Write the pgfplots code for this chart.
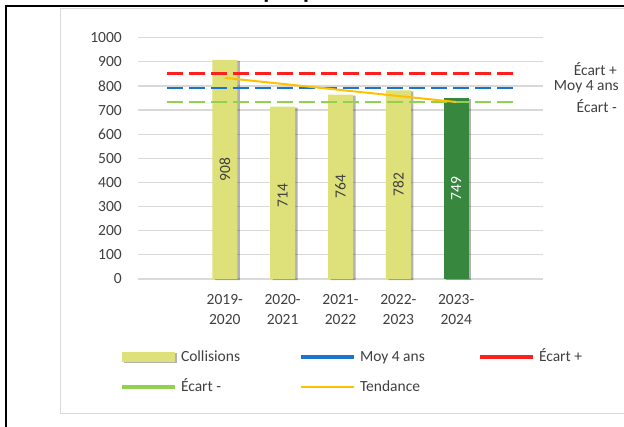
\documentclass[border=0pt]{standalone}
\usepackage{fontspec}
\setmainfont{Carlito}
\usepackage{pgfplots}
\pgfplotsset{compat=1.18}
\usetikzlibrary{shadows}

\definecolor{barlight}{HTML}{DEE07A}
\definecolor{bardark}{HTML}{37873E}
\definecolor{gridgray}{HTML}{D9D9D9}
\definecolor{txt}{HTML}{404040}
\definecolor{cred}{HTML}{FF1F1F}
\definecolor{cblue}{HTML}{1C75CC}
\definecolor{cgreen}{HTML}{92D050}
\definecolor{corange}{HTML}{FFC000}

\newcommand{\chartfont}{\fontsize{15.5bp}{20bp}\selectfont}

\begin{document}
\begin{tikzpicture}
\useasboundingbox (0,0) rectangle (624bp,427bp);
\fill[white] (0,0) rectangle (624bp,427bp);

% title, cut off by the top edge as in the reference
\node[font=\bfseries\fontsize{24.6bp}{28bp}\selectfont, anchor=base, inner sep=0pt]
  at (351bp,428bp) {Graphique des collisions};

% chart area border and outer frame
\draw[gridgray, line width=1bp] (60bp,13bp) -- (60bp,418bp) -- (630bp,418bp);
\draw[gridgray, line width=1bp] (60bp,13bp) -- (630bp,13bp);
\draw[black, line width=1.6bp] (6bp,0bp) -- (6bp,421.2bp) -- (630bp,421.2bp);

\begin{axis}[
    at={(138bp,148bp)}, anchor=south west,
    scale only axis,
    width=405bp, height=241.3bp,
    xmin=-0.5, xmax=6.5,
    ymin=0, ymax=1000,
    ytick={0,100,...,1000},
    xtick={1,2,3,4,5},
    xticklabels={2019-\\2020, 2020-\\2021, 2021-\\2022, 2022-\\2023, 2023-\\2024},
    ymajorgrids,
    grid style={draw=gridgray, line width=1.2bp},
    axis line style={draw=none},
    major tick style={draw=none},
    tick label style={font=\chartfont, color=txt},
    /pgf/number format/assume math mode=true,
    /pgf/number format/1000 sep={},
    yticklabel style={anchor=east, inner sep=0pt, xshift=-16bp},
    xticklabel style={align=center, anchor=north, inner sep=0pt, yshift=-15bp},
    clip=false,
    legend columns=3,
    legend cell align=left,
    legend style={
        at={(-0.0444,-0.3854)}, anchor=west,
        draw=none, fill=none, inner sep=0pt, outer sep=0pt,
        font=\chartfont, text=txt,
        nodes={inner sep=0pt, text height=12bp, text depth=4bp},
        row sep=14bp,
        /tikz/every odd column/.append style={column sep=5bp},
    },
]

% bars
\addplot[ybar, bar shift=0pt, bar width=25bp, fill=barlight, draw=none,
    /tikz/drop shadow={shadow xshift=2.5bp, shadow yshift=-1bp, opacity=0.3, fill=black},
    legend image code/.code={\fill[barlight] (0bp,-4.5bp) rectangle (53bp,4.5bp);}]
    coordinates {(1,908) (2,714) (3,764) (4,782)};
\addlegendentry{\makebox[118bp][l]{Collisions}}

\addplot[ybar, bar shift=0pt, bar width=25bp, fill=bardark, draw=none, forget plot,
    /tikz/drop shadow={shadow xshift=2.5bp, shadow yshift=-1bp, opacity=0.3, fill=black}]
    coordinates {(5,749)};

% reference lines
\addplot[cblue, line width=2.5bp, dash pattern=on 16bp off 6bp,
    legend image code/.code={\draw[cblue, solid, line width=3bp] (0bp,0bp) -- (53bp,0bp);}]
    coordinates {(0,792) (6,792)};
\addlegendentry{\makebox[118bp][l]{Moy 4 ans}}

\addplot[cred, line width=2.5bp, dash pattern=on 16bp off 6bp,
    legend image code/.code={\draw[cred, solid, line width=3bp] (0bp,0bp) -- (53bp,0bp);}]
    coordinates {(0,851) (6,851)};
\addlegendentry{\makebox[118bp][l]{Écart +}}

\addplot[cgreen, line width=2.5bp, dash pattern=on 16bp off 6bp,
    legend image code/.code={\draw[cgreen, solid, line width=3bp] (0bp,0bp) -- (53bp,0bp);}]
    coordinates {(0,734) (6,734)};
\addlegendentry{\makebox[118bp][l]{Écart -}}

\addplot[corange, line width=2bp,
    legend image code/.code={\draw[corange, solid, line width=2bp] (0bp,0bp) -- (53bp,0bp);}]
    coordinates {(1,833.4) (2,808.4) (3,783.4) (4,758.4) (5,733.4)};
\addlegendentry{\makebox[118bp][l]{Tendance}}

% bar value labels, centred in the bars
\addplot[draw=none, mark=none, forget plot, point meta=explicit symbolic,
    nodes near coords,
    nodes near coords style={rotate=90, anchor=center, inner sep=0pt, font=\chartfont, color=txt}]
    coordinates {(1,454)[908] (2,345)[714] (3,382)[764] (4,391)[782]};
\addplot[draw=none, mark=none, forget plot, point meta=explicit symbolic,
    nodes near coords,
    nodes near coords style={rotate=90, anchor=center, inner sep=0pt, font=\chartfont, color=white}]
    coordinates {(5,374.5)[749]};

% series names at the end of the lines
\node[anchor=east, inner sep=0pt, font=\chartfont, text=txt] at (rel axis cs:1.1827,0.870) {Écart +};
\node[anchor=east, inner sep=0pt, font=\chartfont, text=txt] at (rel axis cs:1.1877,0.7957) {Moy 4 ans};
\node[anchor=east, inner sep=0pt, font=\chartfont, text=txt] at (rel axis cs:1.1827,0.717) {Écart -};
\end{axis}
\end{tikzpicture}
\end{document}
